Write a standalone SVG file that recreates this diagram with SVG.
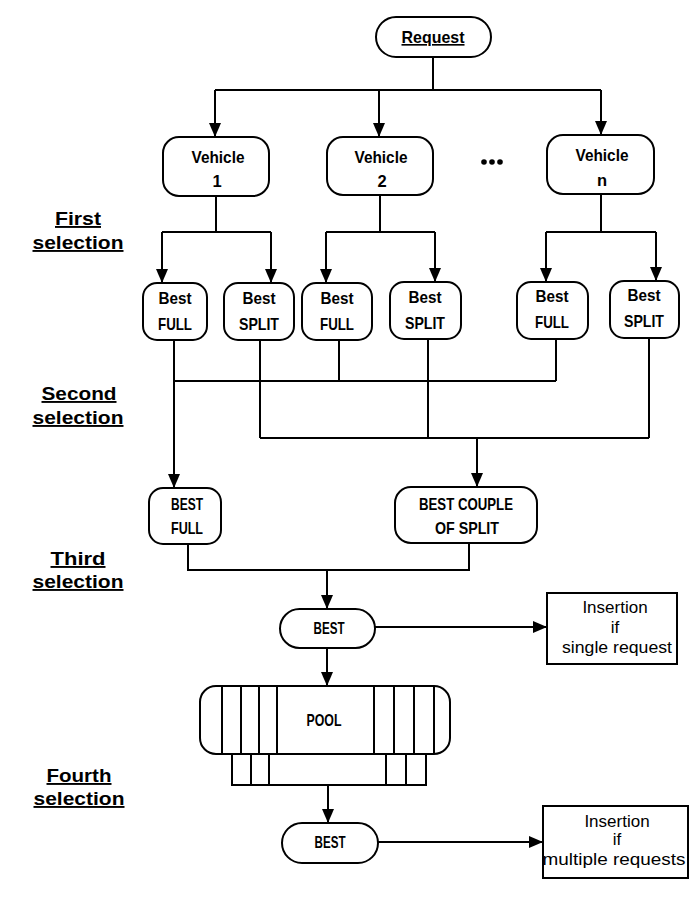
<svg xmlns="http://www.w3.org/2000/svg" width="693" height="911" viewBox="0 0 693 911">
<style>
.box{fill:#fff;stroke:#000;stroke-width:2}
.ln{fill:none;stroke:#000;stroke-width:2}
.arr{fill:none;stroke:#000;stroke-width:2;marker-end:url(#ah)}
.nt{font-family:"Liberation Sans",Arial,sans-serif;font-weight:bold;font-size:16.5px;text-anchor:middle;fill:#000}
.it{font-family:"Liberation Sans",Arial,sans-serif;font-size:17px;text-anchor:middle;fill:#000}
.lb{font-family:"Liberation Sans",Arial,sans-serif;font-weight:bold;font-size:19px;text-anchor:middle;fill:#000;text-decoration:underline}
</style>
<defs>
<marker id="ah" markerUnits="userSpaceOnUse" markerWidth="14" markerHeight="12" refX="14" refY="6" orient="auto">
<path d="M0,0 L14,6 L0,12 z" fill="#000"/>
</marker>
</defs>
<g id="labels">
<text class="lb" x="78" y="225" textLength="46" lengthAdjust="spacingAndGlyphs">First</text>
<text class="lb" x="78" y="249" textLength="91" lengthAdjust="spacingAndGlyphs">selection</text>
<text class="lb" x="79" y="400" textLength="75" lengthAdjust="spacingAndGlyphs">Second</text>
<text class="lb" x="78" y="424" textLength="91" lengthAdjust="spacingAndGlyphs">selection</text>
<text class="lb" x="78" y="565" textLength="55" lengthAdjust="spacingAndGlyphs">Third</text>
<text class="lb" x="78" y="588" textLength="91" lengthAdjust="spacingAndGlyphs">selection</text>
<text class="lb" x="79" y="782" textLength="65" lengthAdjust="spacingAndGlyphs">Fourth</text>
<text class="lb" x="79" y="805" textLength="91" lengthAdjust="spacingAndGlyphs">selection</text>
</g>
<g id="connectors">
<path class="ln" d="M433,57 V90 M215,90 H601"/>
<path class="arr" d="M215,90 V137"/>
<path class="arr" d="M379,90 V137"/>
<path class="arr" d="M601,90 V135"/>
<path class="ln" d="M216,196 V232 M162,232 H271"/>
<path class="arr" d="M162,232 V283"/>
<path class="arr" d="M271,232 V283"/>
<path class="ln" d="M380,195 V232 M326,232 H435"/>
<path class="arr" d="M326,232 V283"/>
<path class="arr" d="M435,232 V282"/>
<path class="ln" d="M601,194 V232 M546,232 H656"/>
<path class="arr" d="M546,232 V282"/>
<path class="arr" d="M656,232 V281"/>
<path class="arr" d="M174,340 V488"/>
<path class="ln" d="M339,340 V381 M556,339 V381 M174,381 H556"/>
<path class="ln" d="M260,340 V438 M428,339 V438 M649,338 V438 M260,438 H649"/>
<path class="arr" d="M477,438 V487"/>
<path class="ln" d="M188,544 V570 H469 V543"/>
<path class="arr" d="M327,570 V609"/>
<path class="arr" d="M375,627 H547"/>
<path class="arr" d="M327,648 V686"/>
<path class="arr" d="M328,785 V823"/>
<path class="arr" d="M378,842 H543"/>
</g>
<g id="request">
<rect class="box" x="376" y="17" width="115" height="40" rx="20"/>
<text class="nt" x="433" y="43" textLength="63" lengthAdjust="spacingAndGlyphs" text-decoration="underline">Request</text>
</g>
<g id="vehicle1">
<rect class="box" x="163" y="137" width="106" height="59" rx="16"/>
<text class="nt" x="218" y="163" textLength="53" lengthAdjust="spacingAndGlyphs">Vehicle</text>
<text class="nt" x="217" y="187">1</text>
</g>
<g id="vehicle2">
<rect class="box" x="327" y="137" width="106" height="58" rx="16"/>
<text class="nt" x="381" y="163" textLength="53" lengthAdjust="spacingAndGlyphs">Vehicle</text>
<text class="nt" x="382" y="187">2</text>
</g>
<g id="dots">
<circle cx="484" cy="162" r="2.8"/>
<circle cx="492" cy="162" r="2.8"/>
<circle cx="500" cy="162" r="2.8"/>
</g>
<g id="vehiclen">
<rect class="box" x="547" y="135" width="107" height="59" rx="16"/>
<text class="nt" x="602" y="161" textLength="53" lengthAdjust="spacingAndGlyphs">Vehicle</text>
<text class="nt" x="602" y="186">n</text>
</g>
<g id="bestfull1">
<rect class="box" x="143" y="283" width="64" height="57" rx="14"/>
<text class="nt" x="175" y="304" textLength="33" lengthAdjust="spacingAndGlyphs">Best</text>
<text class="nt" x="175" y="330" textLength="34" lengthAdjust="spacingAndGlyphs">FULL</text>
</g>
<g id="bestsplit1">
<rect class="box" x="224" y="283" width="70" height="57" rx="14"/>
<text class="nt" x="259" y="304" textLength="33" lengthAdjust="spacingAndGlyphs">Best</text>
<text class="nt" x="259" y="330" textLength="40" lengthAdjust="spacingAndGlyphs">SPLIT</text>
</g>
<g id="bestfull2">
<rect class="box" x="302" y="283" width="70" height="57" rx="14"/>
<text class="nt" x="337" y="304" textLength="33" lengthAdjust="spacingAndGlyphs">Best</text>
<text class="nt" x="337" y="330" textLength="34" lengthAdjust="spacingAndGlyphs">FULL</text>
</g>
<g id="bestsplit2">
<rect class="box" x="390" y="282" width="71" height="57" rx="14"/>
<text class="nt" x="425" y="303" textLength="33" lengthAdjust="spacingAndGlyphs">Best</text>
<text class="nt" x="425" y="329" textLength="40" lengthAdjust="spacingAndGlyphs">SPLIT</text>
</g>
<g id="bestfulln">
<rect class="box" x="517" y="282" width="71" height="57" rx="14"/>
<text class="nt" x="552" y="302" textLength="33" lengthAdjust="spacingAndGlyphs">Best</text>
<text class="nt" x="552" y="328" textLength="34" lengthAdjust="spacingAndGlyphs">FULL</text>
</g>
<g id="bestsplitn">
<rect class="box" x="610" y="281" width="69" height="57" rx="14"/>
<text class="nt" x="644" y="301" textLength="33" lengthAdjust="spacingAndGlyphs">Best</text>
<text class="nt" x="644" y="327" textLength="40" lengthAdjust="spacingAndGlyphs">SPLIT</text>
</g>
<g id="bestfull">
<rect class="box" x="149" y="488" width="72" height="56" rx="14"/>
<text class="nt" x="187" y="510" textLength="32" lengthAdjust="spacingAndGlyphs">BEST</text>
<text class="nt" x="187" y="534" textLength="32" lengthAdjust="spacingAndGlyphs">FULL</text>
</g>
<g id="bestcouple">
<rect class="box" x="395" y="487" width="142" height="56" rx="16"/>
<text class="nt" x="466" y="510" textLength="94" lengthAdjust="spacingAndGlyphs">BEST COUPLE</text>
<text class="nt" x="467" y="534" textLength="64" lengthAdjust="spacingAndGlyphs">OF SPLIT</text>
</g>
<g id="best1">
<rect class="box" x="280" y="609" width="95" height="39" rx="19.5"/>
<text class="nt" x="329" y="634" textLength="31" lengthAdjust="spacingAndGlyphs">BEST</text>
</g>
<g id="insertion1">
<rect class="box" x="547" y="593" width="130" height="71"/>
<text class="it" x="615" y="613">Insertion</text>
<text class="it" x="615" y="633">if</text>
<text class="it" x="617" y="653" textLength="110" lengthAdjust="spacingAndGlyphs">single request</text>
</g>
<g id="pool">
<rect class="box" x="232" y="754" width="194" height="31"/>
<path class="ln" d="M251,754 V785 M269,754 V785 M386,754 V785 M406,754 V785"/>
<rect class="box" x="200" y="686" width="250" height="68" rx="16"/>
<path class="ln" d="M222,686 V754 M241,686 V754 M259,686 V754 M277,686 V754 M374,686 V754 M394,686 V754 M414,686 V754 M434,686 V754"/>
<text class="nt" x="324" y="726" textLength="35" lengthAdjust="spacingAndGlyphs">POOL</text>
</g>
<g id="best2">
<rect class="box" x="282" y="823" width="96" height="40" rx="20"/>
<text class="nt" x="330" y="848" textLength="31" lengthAdjust="spacingAndGlyphs">BEST</text>
</g>
<g id="insertion2">
<rect class="box" x="543" y="806" width="145" height="72"/>
<text class="it" x="617" y="827">Insertion</text>
<text class="it" x="617" y="845">if</text>
<text class="it" x="614" y="865" textLength="143" lengthAdjust="spacingAndGlyphs">multiple requests</text>
</g>
</svg>
